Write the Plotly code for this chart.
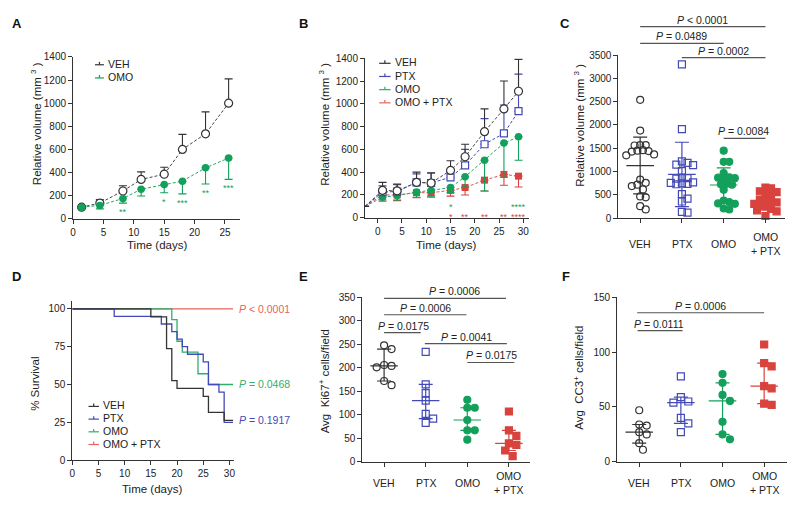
import numpy as np
import plotly.graph_objects as go

FONT = "Liberation Sans, Arial, Helvetica, sans-serif"
PAGE_OFF = 8            # default body margin of the html page
W, H = 800 - PAGE_OFF, 512 - PAGE_OFF
INK = "#333333"
TXT = "#222222"
BLUE = "#4349b6"
GREEN = "#13a05b"
RED = "#d9433d"
KM_RED = "#e8645d"
KM_GREEN = "#2fae6e"

# ---------------- DATA ----------------
# Panel A : tumour growth, VEH vs OMO (mean, one-sided error)
a_days = [1.4, 4.4, 8.2, 11.2, 15, 18, 21.8, 25.6]
a_veh = [100, 135, 240, 340, 385, 600, 735, 1000]
a_veh_err = [0, 30, 45, 65, 60, 130, 190, 210]
a_omo = [100, 115, 175, 255, 295, 325, 440, 525]
a_omo_err = [0, 30, 40, 58, 70, 110, 140, 185]
a_omo_stars = ["", "", "**", "", "*", "***", "**", "***"]

# Panel B : tumour growth, four arms
b_days = [-2.6, 1, 4, 8, 11, 15, 18, 22, 26, 29]
b_veh = [100, 240, 235, 310, 305, 415, 535, 755, 955, 1110]
b_veh_err = [0, 70, 60, 90, 90, 85, 110, 200, 245, 280]
b_ptx = [100, 225, 230, 310, 305, 355, 460, 645, 740, 935]
b_ptx_err = [0, 55, 60, 75, 85, 60, 140, 225, 250, 325]
b_omo = [100, 180, 195, 225, 240, 265, 360, 505, 655, 710]
b_omo_err = [0, 35, 40, 45, 50, 45, 90, 270, 300, 205]
b_combo = [100, 200, 200, 220, 220, 240, 265, 330, 380, 365]
b_combo_err = [0, 45, 50, 45, 40, 50, 65, 95, 95, 95]
b_omo_stars = ["", "", "", "", "", "*", "", "", "", "****"]
b_combo_stars = ["", "", "", "", "", "*", "**", "**", "**", "****"]

# Panel C : end-point volumes (mean +/- SD)
groups = ["VEH", "PTX", "OMO", "OMO<br>+ PTX"]
c_veh = [2540, 1880, 1570, 1570, 1560, 1460, 1450, 1440, 1430, 1370, 1350,
         830, 760, 720, 690, 620, 470, 450, 260, 190]
c_ptx = [3300, 1910, 1220, 1190, 1150, 1140, 1010, 870, 860, 850, 770, 760,
         750, 740, 730, 520, 420, 360, 140, 120]
c_omo = [1450, 1210, 1210, 970, 880, 870, 860, 850, 740, 730, 720, 610,
         380, 350, 320, 310, 210, 190]
c_combo = [660, 640, 580, 560, 500, 480, 400, 380, 340, 350, 310, 280,
           250, 200, 170, 150, 50]
c_pvals = ["<i>P</i> &lt; 0.0001", "<i>P</i> = 0.0489", "<i>P</i> = 0.0002", "<i>P</i> = 0.0084"]

# Panel D : Kaplan-Meier survival
d_veh_t = [0, 15, 18, 19, 20, 25, 26, 29, 30.7]
d_veh_s = [100, 94.7, 73.7, 52.6, 47.4, 42.1, 31.6, 26.3, 26.3]
d_ptx_t = [0, 8, 17, 19, 20, 21, 22, 25, 26, 28, 29, 30.7]
d_ptx_s = [100, 95, 90, 85, 80, 75, 70, 65, 50, 45, 25, 25]
d_omo_t = [0, 19, 20, 21, 24, 26, 30.7]
d_omo_s = [100, 92.9, 78.6, 71.4, 57.1, 50, 50]
d_combo_t = [0, 30.7]
d_combo_s = [100, 100]
d_pvals = ["<i>P</i> &lt; 0.0001", "<i>P</i> = 0.0468", "<i>P</i> = 0.1917"]

# Panel E : Ki67+ cells/field (median, IQR)
e_veh = [248, 240, 206, 204, 201, 172, 163]
e_ptx = [234, 165, 146, 130, 102, 92, 83]
e_omo = [132, 115, 115, 89, 67, 67, 47]
e_combo = [107, 67, 55, 39, 36, 24, 12]
e_pvals = ["<i>P</i> = 0.0006", "<i>P</i> = 0.0006", "<i>P</i> = 0.0175",
           "<i>P</i> = 0.0041", "<i>P</i> = 0.0175"]

# Panel F : CC3+ cells/field (median, IQR)
f_veh = [47, 34, 33, 27, 25, 17, 11]
f_ptx = [78, 59, 55, 54, 40, 35, 27]
f_omo = [80, 72, 61, 55.5, 36.5, 25, 20.5]
f_combo = [107, 90, 87, 69, 67, 53, 52]
f_pvals = ["<i>P</i> = 0.0006", "<i>P</i> = 0.0111"]

# ---------------- LAYOUT GEOMETRY (page pixels) ----------------
P = {
    "A": dict(ax="", x=(70.5, 238), y=(217.7, 52), xr=(0, 27.4), yr=(0, 1400)),
    "B": dict(ax="2", x=(364.3, 529), y=(216.7, 53.3), xr=(-2.6, 31.1), yr=(0, 1400)),
    "C": dict(ax="3", x=(619.3, 787), y=(217.3, 50), xr=(-0.52, 3.47), yr=(0, 3500)),
    "D": dict(ax="4", x=(69.7, 232), y=(465, 302), xr=(0, 30.8), yr=(0, 105.2)),
    "E": dict(ax="5", x=(361.7, 530), y=(466.7, 298.3), xr=(-0.52, 3.5), yr=(0, 350)),
    "F": dict(ax="6", x=(618, 789), y=(466.7, 298.3), xr=(-0.53, 3.55), yr=(0, 150)),
}


def px_x(p):
    return (p - PAGE_OFF) / W


def px_y(p):
    return 1 - (p - PAGE_OFF) / H


def ypaper(panel, v):
    g = P[panel]
    y0, y1 = g["y"]
    r0, r1 = g["yr"]
    return px_y(y0 + (v - r0) / (r1 - r0) * (y1 - y0))


def scale_y(panel):
    g = P[panel]
    return (g["y"][0] - g["y"][1]) / (g["yr"][1] - g["yr"][0])


def scale_x(panel):
    g = P[panel]
    return (g["x"][1] - g["x"][0]) / (g["xr"][1] - g["xr"][0])


fig = go.Figure()

tickfont = dict(family=FONT, size=10, color=TXT)
dticks = {"A": (5, 200), "B": (5, 200), "C": (None, 500), "D": (5, 25), "E": (None, 50), "F": (None, 50)}
layout = {}
for name, g in P.items():
    ax = g["ax"]
    common = dict(showline=True, linecolor=INK, linewidth=1.1, ticks="outside", ticklen=4,
                  tickwidth=1.1, tickcolor=INK, showgrid=False, zeroline=False,
                  tickfont=tickfont, fixedrange=True)
    xd, yd = dticks[name]
    xa = dict(common, domain=[px_x(g["x"][0]), px_x(g["x"][1])], range=list(g["xr"]),
              anchor="y" + ax)
    if xd is None:
        xa.update(tickmode="array", tickvals=[0, 1, 2, 3], showticklabels=False)
    else:
        xa.update(tick0=0, dtick=xd)
    ya = dict(common, domain=[px_y(g["y"][0]), px_y(g["y"][1])], range=list(g["yr"]),
              anchor="x" + ax, tick0=0, dtick=yd)
    layout["xaxis" + ax] = xa
    layout["yaxis" + ax] = ya

fig.update_layout(width=W, height=H, margin=dict(l=0, r=0, t=0, b=0),
                  paper_bgcolor="white", plot_bgcolor="white", showlegend=False,
                  font=dict(family=FONT, color=TXT), **layout)


def ann(**kw):
    base = dict(showarrow=False, font=dict(family=FONT, size=10.5, color=TXT))
    if "font" in kw:
        f = dict(base["font"])
        f.update(kw.pop("font"))
        base["font"] = f
    base.update(kw)
    fig.add_annotation(**base)


# ---------------- growth curves ----------------
def growth(panel, x, y, err, up, color, line_color, symbol, size, name, hide_first=False):
    ax = P[panel]["ax"]
    n = len(y)
    zeros = [0] * n
    open_sym = symbol.endswith("open")
    marker = dict(symbol=symbol.replace("-open", ""), size=size,
                  color="white" if open_sym else color,
                  line=dict(color=color, width=1.2 if open_sym else 0))
    if hide_first:
        marker["opacity"] = [0] + [1] * (n - 1)
    fig.add_trace(go.Scatter(
        x=x, y=y, mode="lines+markers", name=name,
        line=dict(color=line_color, width=1, dash="3px,2px"),
        marker=marker, cliponaxis=False,
        error_y=dict(type="data", symmetric=False,
                     array=err if up else zeros, arrayminus=zeros if up else err,
                     color=color, thickness=1.1, width=4),
        xaxis="x" + ax, yaxis="y" + ax))


growth("A", a_days, a_veh, a_veh_err, True, INK, "#444444", "circle-open", 8, "VEH")
growth("A", a_days, a_omo, a_omo_err, False, GREEN, "#25a968", "circle", 7.5, "OMO")
for x, m, e, s in zip(a_days, a_omo, a_omo_err, a_omo_stars):
    if s:
        ann(x=x, y=m - e, xref="x", yref="y", text=s, yanchor="top", yshift=-2,
            font=dict(size=9, color=GREEN))

growth("B", b_days, b_combo, b_combo_err, False, RED, "#de4f49", "square", 7, "OMO + PTX", True)
growth("B", b_days, b_omo, b_omo_err, False, GREEN, "#25a968", "circle", 7.5, "OMO", True)
growth("B", b_days, b_ptx, b_ptx_err, True, BLUE, BLUE, "square-open", 7, "PTX", True)
growth("B", b_days, b_veh, b_veh_err, True, INK, "#444444", "circle-open", 8, "VEH", True)
B_STAR_ROWS = {"omo": 120, "combo": 34}
for x, s in zip(b_days, b_omo_stars):
    if s:
        ann(x=x, y=B_STAR_ROWS["omo"], xref="x2", yref="y2", text=s, yanchor="middle",
            yshift=-3, font=dict(size=9, color=GREEN))
for x, s in zip(b_days, b_combo_stars):
    if s:
        ann(x=x, y=B_STAR_ROWS["combo"], xref="x2", yref="y2", text=s, yanchor="middle",
            yshift=-3, font=dict(size=9, color=RED))

# ---------------- Kaplan-Meier ----------------
for t, s, c, nm in [(d_combo_t, d_combo_s, KM_RED, "OMO + PTX"),
                     (d_omo_t, d_omo_s, KM_GREEN, "OMO"),
                     (d_ptx_t, d_ptx_s, BLUE, "PTX"),
                     (d_veh_t, d_veh_s, INK, "VEH")]:
    fig.add_trace(go.Scatter(x=t, y=s, mode="lines", line=dict(color=c, width=1.3, shape="hv"),
                             name=nm, xaxis="x4", yaxis="y4"))
for txt, s, c, ys in [(d_pvals[0], d_combo_s, KM_RED, 0),
                      (d_pvals[1], d_omo_s, KM_GREEN, 0),
                      (d_pvals[2], d_ptx_s, BLUE, 2)]:
    ann(x=P["D"]["xr"][1], y=s[-1], xref="x4", yref="y4", text=txt, xanchor="left",
        xshift=3, yshift=ys, font=dict(size=10.5, color=c))


# ---------------- dot plots ----------------
def swarm(vals, panel, diam):
    sy, sx = scale_y(panel), scale_x(panel)
    vals = np.asarray(vals, float)
    order = np.argsort(-vals, kind="stable")
    placed = []
    offs = np.zeros(len(vals))
    cands = [0.0]
    for k in range(1, 16):
        cands += [k * diam * 0.5, -k * diam * 0.5]
    for i in order:
        yy = vals[i] * sy
        for c in cands:
            if all((c - px) ** 2 + (yy - py) ** 2 >= diam ** 2 for px, py in placed):
                offs[i] = c
                placed.append((c, yy))
                break
    return offs / sx


def dots(panel, data, kind, size=7, spacing=7.5):
    ax = P[panel]["ax"]
    styles = [("circle-open", INK), ("square-open", BLUE), ("circle", GREEN), ("square", RED)]
    for i, (vals, (sym, col)) in enumerate(zip(data, styles)):
        off = swarm(vals, panel, spacing)
        fig.add_trace(go.Scatter(
            x=i + off, y=vals, mode="markers", name=groups[i].replace("<br>", " "),
            marker=dict(symbol=sym, size=size, color=col, line=dict(color=col, width=1.2)),
            cliponaxis=False, xaxis="x" + ax, yaxis="y" + ax))
    for i, (vals, (sym, col)) in enumerate(zip(data, styles)):
        v = np.asarray(vals, float)
        if kind == "sd":
            c = v.mean()
            lo, hi = c - v.std(ddof=1), c + v.std(ddof=1)
        else:
            c = np.median(v)
            lo = np.percentile(v, 25, method="weibull")
            hi = np.percentile(v, 75, method="weibull")
        fig.add_trace(go.Scatter(
            x=[i], y=[c], mode="markers", marker=dict(size=2, color="rgba(0,0,0,0)"),
            showlegend=False, hoverinfo="skip", cliponaxis=False,
            error_x=dict(type="constant", value=0.33, width=0, thickness=1.2, color=col,
                         copy_ystyle=False),
            error_y=dict(type="data", symmetric=False, array=[hi - c], arrayminus=[c - lo],
                         width=7, thickness=1.2, color=col),
            xaxis="x" + ax, yaxis="y" + ax))


dots("C", [c_veh, c_ptx, c_omo, c_combo], "sd", size=7, spacing=5.6)
dots("E", [e_veh, e_ptx, e_omo, e_combo], "iqr")
dots("F", [f_veh, f_ptx, f_omo, f_combo], "iqr")


def brackets(panel, items):
    ax = P[panel]["ax"]
    for (x0, x1, lvl, lx, txt, lxs) in items:
        yp = ypaper(panel, lvl)
        fig.add_shape(type="line", xref="x" + ax, yref="paper", x0=x0, x1=x1, y0=yp, y1=yp,
                      line=dict(color="#555555", width=1.2))
        ann(x=lx, y=yp, xref="x" + ax, yref="paper", text=txt, yanchor="middle",
            yshift=7, xshift=lxs, font=dict(size=10.5, color=TXT))


brackets("C", [(0, 3, 4107, 1.5, c_pvals[0], 0), (0, 2, 3751, 1.0, c_pvals[1], 0),
               (1, 3, 3444, 2.0, c_pvals[2], 0), (2, 3, 1715, 2.47, c_pvals[3], 0)])
brackets("E", [(0, 2.93, 348, 1.46, e_pvals[0], 10), (0, 1.98, 313, 0.99, e_pvals[1], 0),
               (0, 0.88, 275, 0.47, e_pvals[2], 0), (0.98, 2.95, 251.5, 1.99, e_pvals[3], 0),
               (2, 3.13, 211.4, 2.59, e_pvals[4], 0)])
brackets("F", [(-0.05, 3.0, 136, 1.47, f_pvals[0], 0), (-0.04, 1.04, 119.7, 0.48, f_pvals[1], 0)])

# category labels
for panel, ypx in [("C", 244), ("E", 488), ("F", 488)]:
    ax = P[panel]["ax"]
    for i, gname in enumerate(groups):
        ann(x=i, y=px_y(ypx), xref="x" + ax, yref="paper", text=gname, yanchor="middle",
            font=dict(size=10.5))


# ---------------- legends ----------------
def legend(entries, x0, x1, xt, ys):
    for (name, color), y in zip(entries, ys):
        yp = px_y(y + 1)
        fig.add_shape(type="line", xref="paper", yref="paper", x0=px_x(x0), x1=px_x(x1),
                      y0=yp, y1=yp, line=dict(color=color, width=1.2))
        xm = (x0 + x1) / 2
        fig.add_shape(type="line", xref="paper", yref="paper", x0=px_x(xm), x1=px_x(xm),
                      y0=yp, y1=px_y(y - 2), line=dict(color=color, width=1.2))
        ann(x=px_x(xt), y=px_y(y), xref="paper", yref="paper", text=name, xanchor="left",
            yanchor="middle", font=dict(size=10.5))


legend([("VEH", INK), ("OMO", GREEN)], 92.5, 101.5, 104, [59, 72.5])
legend([("VEH", INK), ("PTX", BLUE), ("OMO", KM_GREEN), ("OMO + PTX", KM_RED)],
       378.5, 390, 392, [57.5, 71, 84.5, 98])
legend([("VEH", INK), ("PTX", BLUE), ("OMO", KM_GREEN), ("OMO + PTX", KM_RED)],
       86, 96.5, 98.5, [409, 422, 435, 448])

# ---------------- axis titles & panel letters ----------------
ytitles = [(33.3, 120.7, "Relative volume (mm <sup>3</sup> )"),
           (322.7, 120.7, "Relative volume (mm <sup>3</sup> )"),
           (579.3, 121.7, "Relative volume (mm <sup>3</sup> )"),
           (32.3, 386.7, "% Survival"),
           (323.3, 384, "Avg&nbsp; Ki67<sup>+</sup> cells/field"),
           (579.3, 381, "Avg&nbsp; CC3<sup>+</sup> cells/field")]
for x, y, t in ytitles:
    ann(x=px_x(x), y=px_y(y), xref="paper", yref="paper", text=t, textangle=-90,
        xanchor="center", yanchor="middle", font=dict(size=11.5))
for x, y in [(154.5, 245), (446, 245), (149.5, 495)]:
    ann(x=px_x(x), y=px_y(y), xref="paper", yref="paper", text="Time (days)",
        xanchor="center", yanchor="middle", font=dict(size=11.5))
for L, x, y in [("A", 14, 17.5), ("B", 302.5, 17.5), ("C", 566, 17.5),
                ("D", 14, 277), ("E", 302.5, 276.5), ("F", 566.5, 276.5)]:
    ann(x=px_x(x), y=px_y(y), xref="paper", yref="paper", text="<b>%s</b>" % L,
        xanchor="center", yanchor="middle", font=dict(size=13, color="#111111"))

fig.write_html("out.html")
